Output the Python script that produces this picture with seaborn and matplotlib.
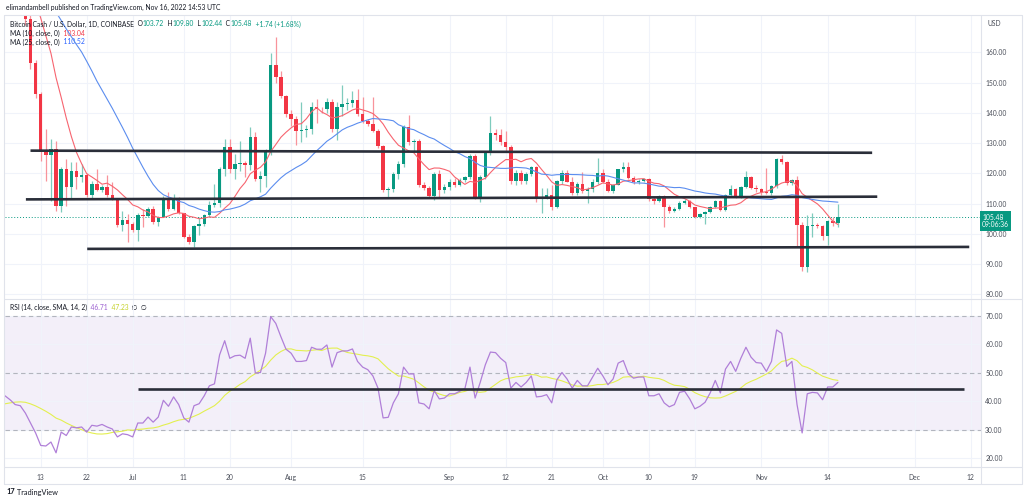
import numpy as np
import pandas as pd
import matplotlib
matplotlib.use("Agg")
import matplotlib.pyplot as plt
from matplotlib.lines import Line2D
import seaborn as sns

# daily candles, Jun 6 - Nov 16 2022 (BCH/USD, Coinbase)
dates = pd.date_range("2022-06-06", "2022-11-16", freq="D")

opens = [186, 190, 186, 184, 182, 171, 156.6, 146.2, 127, 125.9, 128, 109.3, 121.4, 115.4, 120.7, 118.7,
         119.5, 112.7, 116.5, 114.5, 115.5, 112.7, 111.5, 103.1, 104.6, 103.3, 101.3, 106.4, 106.0, 108.2,
         103.9, 105.7, 111.6, 108.2, 111.6, 106.8, 99.1, 97.2, 102.7, 103.3, 106.1, 109.6, 110.1, 121.5,
         128.6, 121.5, 123.1, 123.4, 122.6, 132.1, 118.1, 119.2, 127.5, 155.9, 151.7, 145.6,
         139.6, 137.9, 134.1, 134.4, 134.7, 142.0, 141.3, 141.1, 143.45, 134.65, 142.0, 142.9, 143.1, 144.2,
         139.6, 137.2, 136.3, 134.1, 129.15, 114.5, 114.85, 119.8, 123.1, 135.2, 130.25, 130.8, 116.0, 115.2,
         112.65, 119.8, 114.6, 115.4, 117.05, 116.3, 117.9, 118.7, 125.85, 112.1, 118.9, 126.95, 133.2, 132.8,
         130.25, 128.8, 117.6, 120.0, 117.6, 119.8, 122.1, 111.8, 112.3, 112.9, 108.8, 117.5, 120.2, 117.3,
         113.4, 116.5, 114.3, 114.7, 117.3, 120.0, 117.3, 114.3, 116.2, 121.3, 122.2, 118.4, 117.0, 117.6,
         118.1, 111.4, 111.0, 112.6, 108.8, 107.6, 108.3, 110.3, 111.0, 108.8, 105.7, 106.6, 107.2, 109.0,
         111.0, 107.9, 112.9, 114.7, 112.3, 115.6, 118.7, 115.1, 114.7, 114.0, 113.6, 115.8, 124.6, 123.6,
         116.7, 117.8, 103.0, 89.2, 102.6, 103.1, 102.6, 99.3, 104.1, 103.72]
highs = [193, 191, 189, 186, 184, 173, 157.5, 147, 134.6, 131.3, 130.8, 122, 124.8, 123.6, 123.6, 123,
         120, 117.6, 121.5, 116, 119.3, 117, 111.8, 107.7, 106.6, 104, 106.8, 108.2, 109, 109.3,
         106, 112.6, 113.7, 113.2, 112.1, 107, 100, 103, 105.5, 106.5, 111, 116.5, 122, 131.3,
         131.3, 126.4, 130.8, 124, 135.2, 133.5, 120.9, 128, 159.6, 164.9, 153.9, 146,
         141, 139, 143.5, 136, 143.5, 144.5, 142, 145, 144.5, 143.5, 149.3, 145, 147.3, 147.8,
         145.1, 138, 145.1, 134.5, 129.5, 115.5, 120.5, 124, 136, 139.3, 131.5, 131.2, 117, 115.8,
         120.5, 121, 116.5, 118, 118.5, 118.5, 119, 126.5, 126.5, 119.5, 127.5, 139.0, 134.5, 134.5,
         133.9, 129.5, 121, 121, 120.5, 122.5, 122.5, 115, 115.2, 116, 117.8, 121, 121, 118.7,
         117, 120.6, 115.5, 118, 125, 121.5, 118, 116.5, 121.6, 123.9, 123.9, 119, 118.2, 118.6,
         118.5, 112.1, 113, 113, 109.5, 108.8, 110.8, 111.4, 111.2, 109, 107, 107.5, 109.3, 111.3,
         111.2, 113.2, 116.2, 115.0, 115.8, 120.9, 119, 116.2, 115, 121.7, 116, 125, 126.0, 124,
         118.2, 119, 104, 106.3, 106.8, 103.5, 103, 104.5, 105.7, 109.80]
lows = [185, 180, 182, 180, 169, 154.5, 145, 124.2, 117.6, 111, 107.7, 107.2, 109.3, 111.5, 114.9, 117,
        112.1, 112, 114.3, 114, 112.1, 111.3, 102.2, 101.1, 97.3, 100.5, 97.8, 102.2, 105.5, 103.3,
        102.7, 105.5, 107.5, 107.8, 106.6, 98.7, 96.7, 95.6, 99.5, 102.5, 105.5, 108.8, 109, 119,
        120, 118.1, 120.9, 118.7, 121, 117.5, 113.8, 115.4, 126, 150, 145, 138.5,
        135.5, 129.2, 130.3, 132, 133, 136.6, 140, 140, 133.5, 131, 139, 141, 142, 139,
        136.5, 135.5, 133.5, 128.5, 114, 111.8, 114, 118, 122, 129.5, 127.5, 115.5, 114.5, 112,
        111.3, 112.1, 113.5, 114.5, 115.5, 115.8, 117, 118, 111.5, 110.4, 118, 126, 131, 129.5,
        127.5, 116.5, 116, 116.5, 116.5, 119, 110.5, 106.8, 111.5, 108, 108.5, 116.5, 117, 113,
        112.8, 113.5, 110.3, 114, 116.5, 116.8, 113.9, 113.5, 116, 120.5, 118, 116.5, 116.6, 117,
        111, 109.9, 110.5, 102.4, 107, 107.2, 107.9, 109.8, 108.5, 105.4, 105.3, 103.3, 106.9, 108.7,
        107.6, 107.7, 112.5, 111.8, 112.0, 115.3, 114.7, 113.7, 113, 113.2, 113, 115.3, 123, 116.3,
        116.2, 95.8, 87.6, 87.5, 98.9, 102, 98.0, 96.4, 102.5, 102.44]
closes = [190, 186, 184, 182, 171, 156.6, 146.2, 127, 125.9, 128, 109.3, 121.4, 115.4, 120.7, 118.7, 119.5,
          112.7, 116.5, 114.5, 115.5, 112.7, 111.5, 103.1, 104.6, 103.3, 101.3, 106.4, 106.0, 108.2, 103.9,
          105.7, 111.6, 108.2, 111.6, 106.8, 99.1, 97.2, 102.7, 103.3, 106.1, 109.6, 110.1, 121.5, 128.6,
          121.5, 123.1, 123.4, 122.6, 132.1, 118.1, 119.2, 127.5, 155.9, 151.7, 145.6, 139.6,
          137.9, 134.1, 134.4, 134.7, 142.0, 141.3, 141.1, 143.45, 134.65, 142.0, 142.9, 143.1, 144.2, 139.6,
          137.2, 136.3, 134.1, 129.15, 114.5, 114.85, 119.8, 123.1, 135.2, 130.25, 130.8, 116.0, 115.2, 112.65,
          119.8, 114.6, 115.4, 117.05, 116.3, 117.9, 118.7, 125.85, 112.1, 118.9, 126.95, 133.2, 132.8, 130.25,
          128.8, 117.6, 120.0, 117.6, 119.8, 122.1, 111.8, 112.3, 112.9, 108.8, 117.5, 120.2, 117.3, 113.4,
          116.5, 114.3, 114.7, 117.3, 120.0, 117.3, 114.3, 116.2, 121.3, 122.2, 118.4, 117.0, 117.6, 118.1,
          111.4, 111.0, 112.6, 108.8, 107.6, 108.3, 110.3, 111.0, 108.8, 105.7, 106.6, 107.2, 109.0, 111.0,
          107.9, 112.9, 114.7, 112.3, 115.6, 118.7, 115.1, 114.7, 114.0, 113.6, 115.8, 124.6, 123.6, 116.7,
          117.8, 103.0, 89.2, 102.6, 103.1, 102.6, 99.3, 104.1, 103.72, 105.48]

# closes before the visible window (May 12 - Jun 5), only used to warm up the moving averages
prior_closes = [199, 205, 196, 201, 206, 197, 191, 196, 194, 193, 195, 188, 186, 185, 184, 181,
                189, 196, 199, 190, 186, 187, 183, 184, 186]

rsi = [41.9, 40.5, 38.8, 38.4, 35.8, 32.3, 28.8, 24.4, 24.2, 25.6, 21.8, 29.1, 27.9, 30.9, 30.6, 30.9,
       29.1, 31.5, 31.2, 31.8, 30.9, 30.2, 27.4, 28.5, 28.2, 27.4, 32.3, 32.3, 34.4, 32.6, 34.4, 40.3,
       38.2, 41.5, 38.8, 34.1, 32.6, 38.4, 39.1, 41.9, 45.4, 46.1, 56.3, 61.3, 55.1, 56.0, 56.2, 55.1,
       62.2, 49.9, 50.1, 56.9, 69.8, 67.4, 62.7, 58.3, 56.9, 54.0, 54.0, 54.3, 59.0, 58.3, 58.3, 59.8,
       52.0, 57.1, 57.7, 57.7, 58.4, 54.0, 52.0, 51.1, 48.9, 44.6, 34.1, 34.3, 39.4, 42.6, 52.0, 49.6,
       49.6, 39.4, 39.0, 37.3, 43.7, 40.8, 41.1, 42.6, 42.6, 43.5, 44.4, 52.0, 41.1, 46.6, 52.8, 57.3,
       57.1, 55.1, 53.6, 44.6, 46.6, 45.0, 46.6, 48.9, 41.5, 41.7, 42.3, 39.4, 47.5, 50.1, 47.8, 44.6,
       47.3, 45.4, 45.4, 48.5, 51.6, 48.9, 45.8, 47.8, 53.4, 54.3, 49.6, 48.1, 48.5, 48.5, 41.9, 41.9,
       42.6, 39.4, 38.0, 38.8, 43.1, 43.5, 40.8, 37.3, 38.2, 39.6, 42.9, 47.3, 42.9, 51.3, 54.0, 50.5,
       55.1, 59.0, 55.5, 53.6, 53.4, 50.5, 54.0, 65.1, 63.9, 52.2, 54.0, 38.8, 28.8, 42.6, 43.1, 42.9,
       40.5, 45.0, 45.0, 46.6]
prior_rsi = [36, 35, 37, 38, 40, 39, 37, 38, 41, 40, 39, 42, 43]

# hand-drawn horizontal lines: (start, end, value at start, value at end)
price_lines = [
    ("2022-06-11 00:00", "2022-11-22 16:48", 127.5, 126.8),
    ("2022-06-10 02:24", "2022-11-23 16:48", 111.4, 112.3),
    ("2022-06-22 02:24", "2022-12-11 16:48", 95.05, 95.7),
]
rsi_lines = [("2022-07-02 02:24", "2022-12-10 16:48", 44.3, 44.3)]

tick_dates = ["2022-06-13", "2022-06-22", "2022-07-01", "2022-07-11", "2022-07-20", "2022-08-01",
              "2022-08-15", "2022-09-01", "2022-09-12", "2022-09-21", "2022-10-01", "2022-10-10",
              "2022-10-19", "2022-11-01", "2022-11-14", "2022-12-01", "2022-12-12"]
tick_labels = ["13", "22", "Jul", "11", "20", "Aug", "15", "Sep", "12", "21", "Oct", "10", "19",
               "Nov", "14", "Dec", "12"]
price_ticks = [80, 90, 100, 110, 120, 130, 140, 150, 160]
rsi_ticks = [20, 30, 40, 50, 60, 70]
last_price = 105.48

GREEN = "#089981"
RED = "#f23645"
DARK = "#131722"
GRID = "#f0f3fa"
FRAME = "#e0e3eb"

sns.set_theme(style="white")
plt.rcParams["font.family"] = ["Lato", "DejaVu Sans"]

df = pd.DataFrame({"date": dates, "open": opens, "high": highs, "low": lows, "close": closes})
all_close = pd.Series(prior_closes + closes)
df["ma10"] = all_close.rolling(10).mean().iloc[len(prior_closes):].values
df["ma25"] = all_close.rolling(25).mean().iloc[len(prior_closes):].values
df["rsi"] = rsi
df["rsi_ma"] = pd.Series(prior_rsi + rsi).rolling(14).mean().iloc[len(prior_rsi):].values

W, H = 1024, 503
def fx(px):
    return px / W
def fy(py):
    return 1 - py / H

fig = plt.figure(figsize=(10.24, 5.03), dpi=100)
fig.patch.set_facecolor("white")
ax = fig.add_axes([fx(5), fy(299), fx(981) - fx(5), fy(15) - fy(299)])
ax_rsi = fig.add_axes([fx(5), fy(467), fx(981) - fx(5), fy(299) - fy(467)], sharex=ax)

# candles
up = df["close"] >= df["open"]
ax.vlines(df["date"], df["low"], df["high"], colors=np.where(up, "#7fcbbd", "#f8939b"),
          linewidth=0.9, zorder=2)
body = (df["close"] - df["open"]).abs().clip(lower=0.25)
ax.bar(df["date"], body, bottom=df[["open", "close"]].min(axis=1), width=0.68,
       color=np.where(up, GREEN, RED), linewidth=0, zorder=3)

sns.lineplot(data=df, x="date", y="ma10", ax=ax, color="#f7646f", linewidth=0.8, zorder=4)
sns.lineplot(data=df, x="date", y="ma25", ax=ax, color="#5b8def", linewidth=0.8, zorder=4)

for start, end, v0, v1 in price_lines:
    ax.plot(pd.to_datetime([start, end]), [v0, v1], color="#2a2e39", linewidth=1.9,
            solid_capstyle="butt", zorder=6)
ax.axhline(last_price, color=GREEN, linestyle=(0, (1, 2)), linewidth=0.7, zorder=1)

# RSI pane
ax_rsi.axhspan(30, 70, color="#7e57c2", alpha=0.09, linewidth=0, zorder=0)
for lvl in (30, 50, 70):
    ax_rsi.axhline(lvl, color="#b2b5be", linestyle=(0, (4, 3)), linewidth=0.8, zorder=1)
sns.lineplot(data=df, x="date", y="rsi_ma", ax=ax_rsi, color="#e3ef4f", linewidth=0.8, zorder=3)
sns.lineplot(data=df, x="date", y="rsi", ax=ax_rsi, color="#b07fd8", linewidth=0.9, zorder=4)
for start, end, v0, v1 in rsi_lines:
    ax_rsi.plot(pd.to_datetime([start, end]), [v0, v1], color="#2a2e39", linewidth=1.9,
                solid_capstyle="butt", zorder=6)

# axes, ticks, grid
jun13 = matplotlib.dates.date2num(pd.Timestamp("2022-06-13"))
ax.set_xlim(jun13 - 6.99, jun13 + 184.0)
ax.set_ylim(78.5, 172.3)
ax_rsi.set_ylim(16.8, 76.0)

for a, ticks in ((ax, price_ticks), (ax_rsi, rsi_ticks)):
    a.set_xlabel("")
    a.set_ylabel("")
    a.yaxis.tick_right()
    a.set_yticks(ticks)
    a.set_yticklabels([f"{t:.2f}" for t in ticks])
    a.tick_params(axis="y", length=0, pad=3, labelsize=4.9, labelcolor="#4a4e59")
    a.grid(True, color=GRID, linewidth=0.8)
    a.set_axisbelow(True)
    for s in a.spines.values():
        s.set_visible(False)
    a.set_facecolor("none")

ax_rsi.set_xticks(pd.to_datetime(tick_dates))
ax_rsi.set_xticklabels(tick_labels)
ax_rsi.tick_params(axis="x", length=0, pad=5, labelsize=4.9, labelcolor="#4a4e59")
ax.tick_params(axis="x", labelbottom=False, length=0)

# frame lines
for (x0, y0, x1, y1) in [(4, 15, 1022, 15), (4, 299, 1022, 299), (4, 467, 1022, 467),
                         (4, 484, 1022, 484), (981, 15, 981, 484), (4, 15, 4, 484),
                         (1022, 15, 1022, 484)]:
    fig.add_artist(Line2D([fx(x0), fx(x1)], [fy(y0), fy(y1)], color=FRAME, linewidth=0.8))


def chain(x, y, parts, size=4.9):
    # parts: (text, colour, weight) pieces written one after the other
    t = fig.text(fx(x), fy(y), parts[0][0], color=parts[0][1], fontsize=size,
                 va="center", ha="left", fontweight=parts[0][2] if len(parts[0]) > 2 else "normal")
    for p in parts[1:]:
        t = ax.annotate(p[0], xy=(1, 0.5), xycoords=t, va="center", ha="left", color=p[1],
                        fontsize=size, fontweight=p[2] if len(p) > 2 else "normal",
                        annotation_clip=False)
    return t


fig.text(fx(6), fy(7), "elimandambell published on TradingView.com, Nov 16, 2022 14:53 UTC",
         fontsize=4.9, color=DARK, va="center", ha="left")
chain(10, 24, [("Bitcoin Cash / U.S. Dollar, 1D, COINBASE", DARK), ("  O", DARK), ("103.72", GREEN),
               ("  H", DARK), ("109.80", GREEN), ("  L", DARK), ("102.44", GREEN), ("  C", DARK),
               ("105.48", GREEN), ("  +1.74 (+1.68%)", GREEN)])
chain(10, 33, [("MA (10, close, 0)", DARK), ("  103.04", RED)])
chain(10, 42, [("MA (25, close, 0)", DARK), ("  110.52", "#2962ff")])
chain(10, 307, [("RSI (14, close, SMA, 14, 2)", DARK), ("  46.71", "#9c5fd0"), ("  47.23", "#c5d12a"),
                ("  \u2205  \u2205", DARK)])
fig.text(fx(987), fy(24), "USD", fontsize=4.9, color="#4a4e59", va="center", ha="left")

fig.text(fx(982), fy(221), "105.48\n09:06:36", fontsize=4.9, color="white", va="center", ha="left",
         linespacing=1.15, bbox=dict(boxstyle="square,pad=0.35", fc=GREEN, ec="none"))

chain(6, 492, [("17", DARK, "bold"), (" TradingView", DARK)], size=5.3)

fig.savefig("out.png", dpi=100, facecolor="white")
